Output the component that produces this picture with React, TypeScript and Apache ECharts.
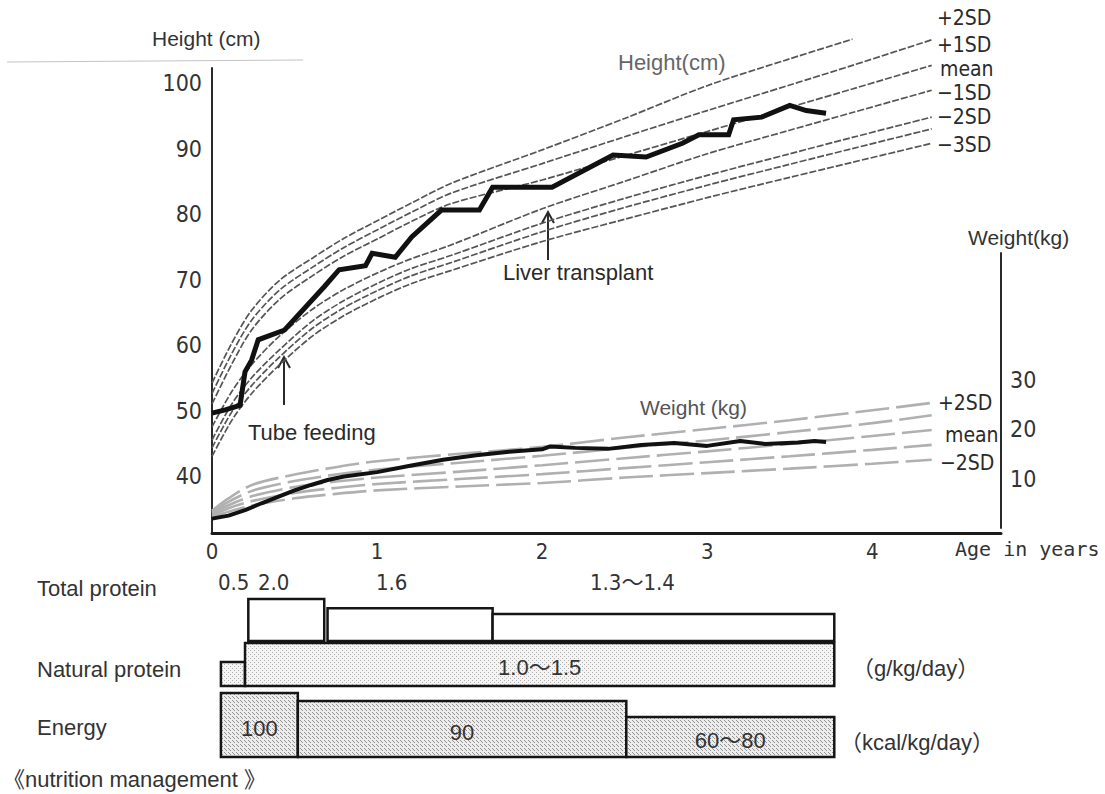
import React, { useEffect, useRef } from "react";
import * as echarts from "echarts";

// ---------------- data ----------------
const AGE_TICKS = [0, 1, 2, 3, 4];
const HEIGHT_TICKS = [40, 50, 60, 70, 80, 90, 100];
const WEIGHT_TICKS = [10, 20, 30];

// Height reference curves (cm) by age (years)
const HEIGHT_AGES = [0, 0.12, 0.24, 0.41, 0.61, 0.8, 1.01, 1.21, 1.45, 2, 2.5, 3, 3.5, 3.88, 4.36];
const H_P2 = [54.2, 60.3, 65.3, 69.9, 73.3, 76.3, 79.1, 81.7, 84.7, 89.8, 94.6, 99.6, 103.7, 106.7, null];
const H_P1 = [52.6, 58.7, 63.8, 68.4, 71.9, 74.9, 77.7, 80.3, 83.2, 87.7, 91.8, 95.8, 99.7, 102.7, 106.6];
const H_MEAN = [51.0, 57.1, 62.3, 67.0, 70.6, 73.6, 76.3, 78.9, 81.6, 85.2, 88.9, 92.6, 96.3, 99.1, 102.7];
const H_M1 = [47.5, 52.9, 57.0, 61.4, 65.5, 68.5, 71.1, 73.2, 75.3, 80.8, 85.0, 89.2, 92.8, 95.5, 98.9];
const H_M2 = [45.5, 51.0, 55.0, 59.3, 63.7, 66.8, 69.5, 71.7, 73.7, 78.6, 82.4, 85.9, 89.2, 91.7, 94.8];
const H_M25 = [44.3, 49.8, 53.8, 58.2, 62.6, 65.7, 68.4, 70.6, 72.6, 77.3, 81.0, 84.4, 87.6, 90.0, 93.0];
const H_M3 = [43.0, 48.5, 52.6, 57.0, 61.4, 64.5, 67.2, 69.4, 71.4, 75.8, 79.2, 82.5, 85.6, 87.9, 90.8];

// Patient height
const PATIENT_H_AGES = [0, 0.08, 0.17, 0.2, 0.24, 0.28, 0.44, 0.68, 0.77, 0.93, 0.97, 1.11, 1.21, 1.39, 1.62, 1.7, 2.06, 2.43, 2.63, 2.85, 2.95, 3.13, 3.16, 3.33, 3.5, 3.6, 3.72];
const PATIENT_H = [49.6, 50.1, 50.8, 55.9, 57.7, 60.8, 62.3, 68.9, 71.5, 72.1, 74.0, 73.4, 76.5, 80.6, 80.6, 84.1, 84.1, 89.0, 88.7, 90.8, 92.1, 92.1, 94.4, 94.8, 96.6, 95.8, 95.4];

// Weight reference curves (kg)
const WEIGHT_AGES = [0, 0.1, 0.25, 0.5, 0.75, 1, 1.5, 2, 2.5, 3, 3.5, 4, 4.36];
const W_P2 = [3.5, 6.0, 8.8, 10.8, 12.3, 13.5, 15.0, 16.4, 18.3, 20.0, 21.8, 23.8, 25.3];
const W_P1 = [3.2, 5.3, 7.6, 9.5, 10.8, 11.8, 13.2, 14.6, 16.2, 17.7, 19.4, 21.2, 22.8];
const W_MEAN = [2.9, 4.6, 6.5, 8.3, 9.4, 10.2, 11.4, 12.7, 14.1, 15.5, 17.0, 18.6, 19.8];
const W_M1 = [2.5, 4.0, 5.5, 7.1, 8.1, 8.9, 9.9, 10.9, 12.1, 13.3, 14.5, 15.8, 16.8];
const W_M2 = [2.2, 3.3, 4.6, 6.0, 6.9, 7.6, 8.4, 9.1, 10.2, 11.1, 12.0, 13.0, 13.8];

// Patient weight
const PATIENT_W_AGES = [0, 0.1, 0.2, 0.3, 0.4, 0.5, 0.6, 0.7, 0.8, 1.0, 1.2, 1.4, 1.6, 1.8, 2.0, 2.05, 2.2, 2.4, 2.6, 2.8, 3.0, 3.2, 3.35, 3.55, 3.65, 3.72];
const PATIENT_W = [1.9, 2.5, 3.6, 5.0, 6.3, 7.6, 8.7, 9.7, 10.4, 11.3, 12.6, 13.8, 14.7, 15.4, 15.9, 16.5, 16.2, 16.0, 16.8, 17.2, 16.6, 17.6, 17.0, 17.3, 17.6, 17.4];

// Nutrition management (age ranges in years, values)
const TP_START = [0.22, 0.7, 1.7];
const TP_END = [0.68, 1.7, 3.77];
const TP_VALUE = [2.0, 1.6, 1.35];
const TP_LABEL = ["2.0", "1.6", "1.3〜1.4"];

const NP_START = [0.054, 0.2];
const NP_END = [0.2, 3.77];
const NP_VALUE = [0.5, 1.25];
const NP_LABEL = ["0.5", "1.0〜1.5"];

const EN_START = [0.054, 0.52, 2.51];
const EN_END = [0.52, 2.51, 3.77];
const EN_VALUE = [100, 90, 70];
const EN_LABEL = ["100", "90", "60〜80"];

// ---------------- styling ----------------
const SANS = "'Liberation Sans', Arial, 'Noto Sans CJK JP', sans-serif";
const NARROW = "'Liberation Sans Narrow', 'DejaVu Sans Condensed', 'Noto Sans CJK JP', sans-serif";
const MONO = "'DejaVu Sans Mono', 'Liberation Mono', monospace";
const INK = "#2a2a2a";

const AGE_MIN = 0;
const AGE_MAX = 4.78;

function pairs(xs: number[], ys: (number | null)[]) {
  const out: number[][] = [];
  xs.forEach((x, i) => {
    const y = ys[i];
    if (y !== null && y !== undefined) out.push([x, y]);
  });
  return out;
}

function makePattern(kind: "dots" | "hatch") {
  const c = document.createElement("canvas");
  c.width = 4;
  c.height = 4;
  const g = c.getContext("2d")!;
  if (kind === "dots") {
    g.fillStyle = "#f4f4f4";
    g.fillRect(0, 0, 4, 4);
    g.fillStyle = "#b0b0b0";
    g.fillRect(0, 0, 1, 1);
    g.fillRect(2, 2, 1, 1);
  } else {
    g.fillStyle = "#ededed";
    g.fillRect(0, 0, 4, 4);
    g.fillStyle = "#939393";
    g.fillRect(0, 0, 1, 1);
    g.fillRect(1, 1, 1, 1);
    g.fillRect(2, 2, 1, 1);
  }
  return { image: c, repeat: "repeat", imageWidth: 4, imageHeight: 4 } as any;
}

function txt(text: string, x: number, y: number, size: number, family: string, fill = INK, align = "left") {
  return {
    type: "text",
    x,
    y,
    silent: true,
    style: { text, fontSize: size, fontFamily: family, fill, align, verticalAlign: "middle" },
  };
}

function line(x1: number, y1: number, x2: number, y2: number, stroke = INK, w = 2) {
  return { type: "line", silent: true, shape: { x1, y1, x2, y2 }, style: { stroke, lineWidth: w } };
}

function arrow(x: number, yTop: number, yBottom: number) {
  return [
    line(x, yBottom, x, yTop, INK, 2),
    {
      type: "polyline",
      silent: true,
      shape: { points: [[x - 6, yTop + 11], [x, yTop], [x + 6, yTop + 11]] },
      style: { stroke: INK, lineWidth: 2, fill: "none" },
    },
  ];
}

function boxSeries(
  gridIdx: number,
  starts: number[],
  ends: number[],
  values: number[],
  labels: string[],
  inside: boolean[],
  base: number,
  fill: any
) {
  return {
    type: "custom",
    xAxisIndex: gridIdx,
    yAxisIndex: gridIdx,
    clip: false,
    silent: true,
    data: starts.map((s, i) => [s, ends[i], values[i], i]),
    renderItem: (params: any, api: any) => {
      const i = api.value(3);
      const p0 = api.coord([api.value(0), api.value(2)]);
      const p1 = api.coord([api.value(1), base]);
      const children: any[] = [
        {
          type: "rect",
          shape: { x: p0[0], y: p0[1], width: p1[0] - p0[0], height: p1[1] - p0[1] },
          style: { fill, stroke: "#151515", lineWidth: 2.5 },
        },
      ];
      if (inside[i]) {
        children.push({
          type: "text",
          style: {
            text: labels[i],
            x: (p0[0] + p1[0]) / 2,
            y: (p0[1] + p1[1]) / 2 + 3,
            align: "center",
            verticalAlign: "middle",
            fontSize: 22,
            fontFamily: SANS,
            fill: "#333",
          },
        });
      }
      return { type: "group", children };
    },
  };
}

export default function App() {
  const ref = useRef<HTMLDivElement>(null);

  useEffect(() => {
    if (!ref.current) return;
    const chart = echarts.init(ref.current, undefined, { renderer: "svg" });

    const hLine = (name: string, ys: (number | null)[]) => ({
      type: "line",
      name,
      xAxisIndex: 0,
      yAxisIndex: 0,
      data: pairs(HEIGHT_AGES, ys),
      smooth: 0.3,
      symbol: "none",
      clip: false,
      silent: true,
      lineStyle: { color: "#555", width: 1.7, type: [7, 2] },
      z: 2,
    });
    const wLine = (name: string, ys: number[]) => ({
      type: "line",
      name,
      xAxisIndex: 1,
      yAxisIndex: 1,
      data: pairs(WEIGHT_AGES, ys),
      smooth: 0.3,
      symbol: "none",
      clip: false,
      silent: true,
      lineStyle: { color: "#b0b0b0", width: 2.6, type: [34, 7] },
      z: 2,
    });

    const hiddenX = (gridIndex: number) => ({
      type: "value",
      gridIndex,
      min: AGE_MIN,
      max: AGE_MAX,
      show: false,
    });
    const hiddenY = (gridIndex: number, min: number, max: number) => ({
      type: "value",
      gridIndex,
      min,
      max,
      show: false,
    });

    const dots = makePattern("dots");
    const hatch = makePattern("hatch");

    const SD = 21;
    const graphic: any[] = [
      // top-left title
      txt("Height (cm)", 152, 38, 21, SANS, "#333"),
      line(7, 62, 303, 60, "#c4c4c4", 1),
      // curve titles
      txt("Height(cm)", 618, 62, 22, SANS, "#666"),
      txt("Weight (kg)", 640, 407, 21, SANS, "#555"),
      // height SD labels
      txt("+2SD", 937, 18, SD, NARROW),
      txt("+1SD", 937, 45, SD, NARROW),
      txt("mean", 940, 69, SD, NARROW),
      txt("−1SD", 937, 93, SD, NARROW),
      txt("−2SD", 937, 117, SD, NARROW),
      txt("−3SD", 937, 145, SD, NARROW),
      // weight axis title and SD labels
      txt("Weight(kg)", 968, 237, 21, SANS, "#333"),
      txt("+2SD", 938, 403, SD, NARROW),
      txt("mean", 945, 435, SD, NARROW),
      txt("−2SD", 940, 463, SD, NARROW),
      // x axis title
      txt("Age in years", 955, 549, 20, MONO, "#333"),
      // annotations
      txt("Liver transplant", 503, 272, 22, SANS),
      ...arrow(548, 212, 260),
      txt("Tube feeding", 248, 432, 22, SANS),
      ...arrow(284, 357, 405),
      // nutrition section
      txt("Total protein", 37, 588, 22, SANS, "#333"),
      txt("Natural protein", 37, 669, 22, SANS, "#333"),
      txt("Energy", 37, 727, 22, SANS, "#333"),
      txt(NP_LABEL[0], 218, 582, 22, NARROW, "#333"),
      txt(TP_LABEL[0], 258, 582, 22, NARROW, "#333"),
      txt(TP_LABEL[1], 376, 582, 22, NARROW, "#333"),
      txt(TP_LABEL[2], 590, 582, 22, NARROW, "#333"),
      txt("（g/kg/day）", 852, 668, 22, SANS, "#333"),
      txt("（kcal/kg/day）", 840, 742, 22, SANS, "#333"),
      txt("《nutrition management 》", 3, 779, 22, SANS, "#333"),
    ];

    const option: any = {
      animation: false,
      backgroundColor: "#ffffff",
      grid: [
        { left: 212, right: 104, top: 68, bottom: 261 },
        { left: 212, right: 104, top: 253, bottom: 266 },
        { left: 212, right: 104, top: 599, bottom: 153 },
        { left: 212, right: 104, top: 643, bottom: 108 },
        { left: 212, right: 104, top: 693, bottom: 37 },
      ],
      xAxis: [
        {
          type: "value",
          gridIndex: 0,
          min: AGE_MIN,
          max: AGE_MAX,
          axisLine: { show: true, onZero: false, lineStyle: { color: "#1a1a1a", width: 3 } },
          axisTick: { show: false },
          splitLine: { show: false },
          axisLabel: {
            customValues: AGE_TICKS,
            fontSize: 22,
            fontFamily: NARROW,
            color: "#333",
            margin: 7,
          },
        },
        hiddenX(1),
        hiddenX(2),
        hiddenX(3),
        hiddenX(4),
      ],
      yAxis: [
        {
          type: "value",
          gridIndex: 0,
          min: 31.3,
          max: 102.3,
          axisLine: { show: true, onZero: false, lineStyle: { color: "#2a2a2a", width: 2 } },
          axisTick: { show: false },
          splitLine: { show: false },
          axisLabel: {
            customValues: HEIGHT_TICKS,
            fontSize: 23,
            fontFamily: NARROW,
            color: "#333",
            margin: 10,
          },
        },
        {
          type: "value",
          gridIndex: 1,
          position: "right",
          min: 0,
          max: 55.6,
          axisLine: { show: true, onZero: false, lineStyle: { color: "#2a2a2a", width: 2 } },
          axisTick: { show: false },
          splitLine: { show: false },
          axisLabel: {
            customValues: WEIGHT_TICKS,
            fontSize: 23,
            fontFamily: NARROW,
            color: "#333",
            margin: 9,
          },
        },
        hiddenY(2, 0.18, 2.0),
        hiddenY(3, -0.45, 1.25),
        hiddenY(4, 20, 100),
      ],
      series: [
        hLine("+2SD", H_P2),
        hLine("+1SD", H_P1),
        hLine("mean", H_MEAN),
        hLine("-1SD", H_M1),
        hLine("-2SD", H_M2),
        hLine("-2.5SD", H_M25),
        hLine("-3SD", H_M3),
        {
          type: "line",
          name: "Patient height",
          xAxisIndex: 0,
          yAxisIndex: 0,
          data: pairs(PATIENT_H_AGES, PATIENT_H),
          symbol: "none",
          silent: true,
          lineStyle: { color: "#111", width: 5, join: "miter" },
          z: 5,
        },
        wLine("+2SD", W_P2),
        wLine("+1SD", W_P1),
        wLine("mean", W_MEAN),
        wLine("-1SD", W_M1),
        wLine("-2SD", W_M2),
        {
          type: "line",
          name: "Patient weight",
          xAxisIndex: 1,
          yAxisIndex: 1,
          data: pairs(PATIENT_W_AGES, PATIENT_W),
          symbol: "none",
          silent: true,
          lineStyle: { color: "#111", width: 4 },
          z: 5,
        },
        boxSeries(2, TP_START, TP_END, TP_VALUE, TP_LABEL, [false, false, false], 0.18, "#ffffff"),
        boxSeries(3, NP_START, NP_END, NP_VALUE, NP_LABEL, [false, true], -0.45, dots),
        boxSeries(4, EN_START, EN_END, EN_VALUE, EN_LABEL, [true, true, true], 20, hatch),
      ],
      graphic,
    };

    chart.setOption(option);
    return () => chart.dispose();
  }, []);

  return (
    <div
      ref={ref}
      style={{ position: "absolute", left: 0, top: 0, width: 1105, height: 794, background: "#fff" }}
    />
  );
}
